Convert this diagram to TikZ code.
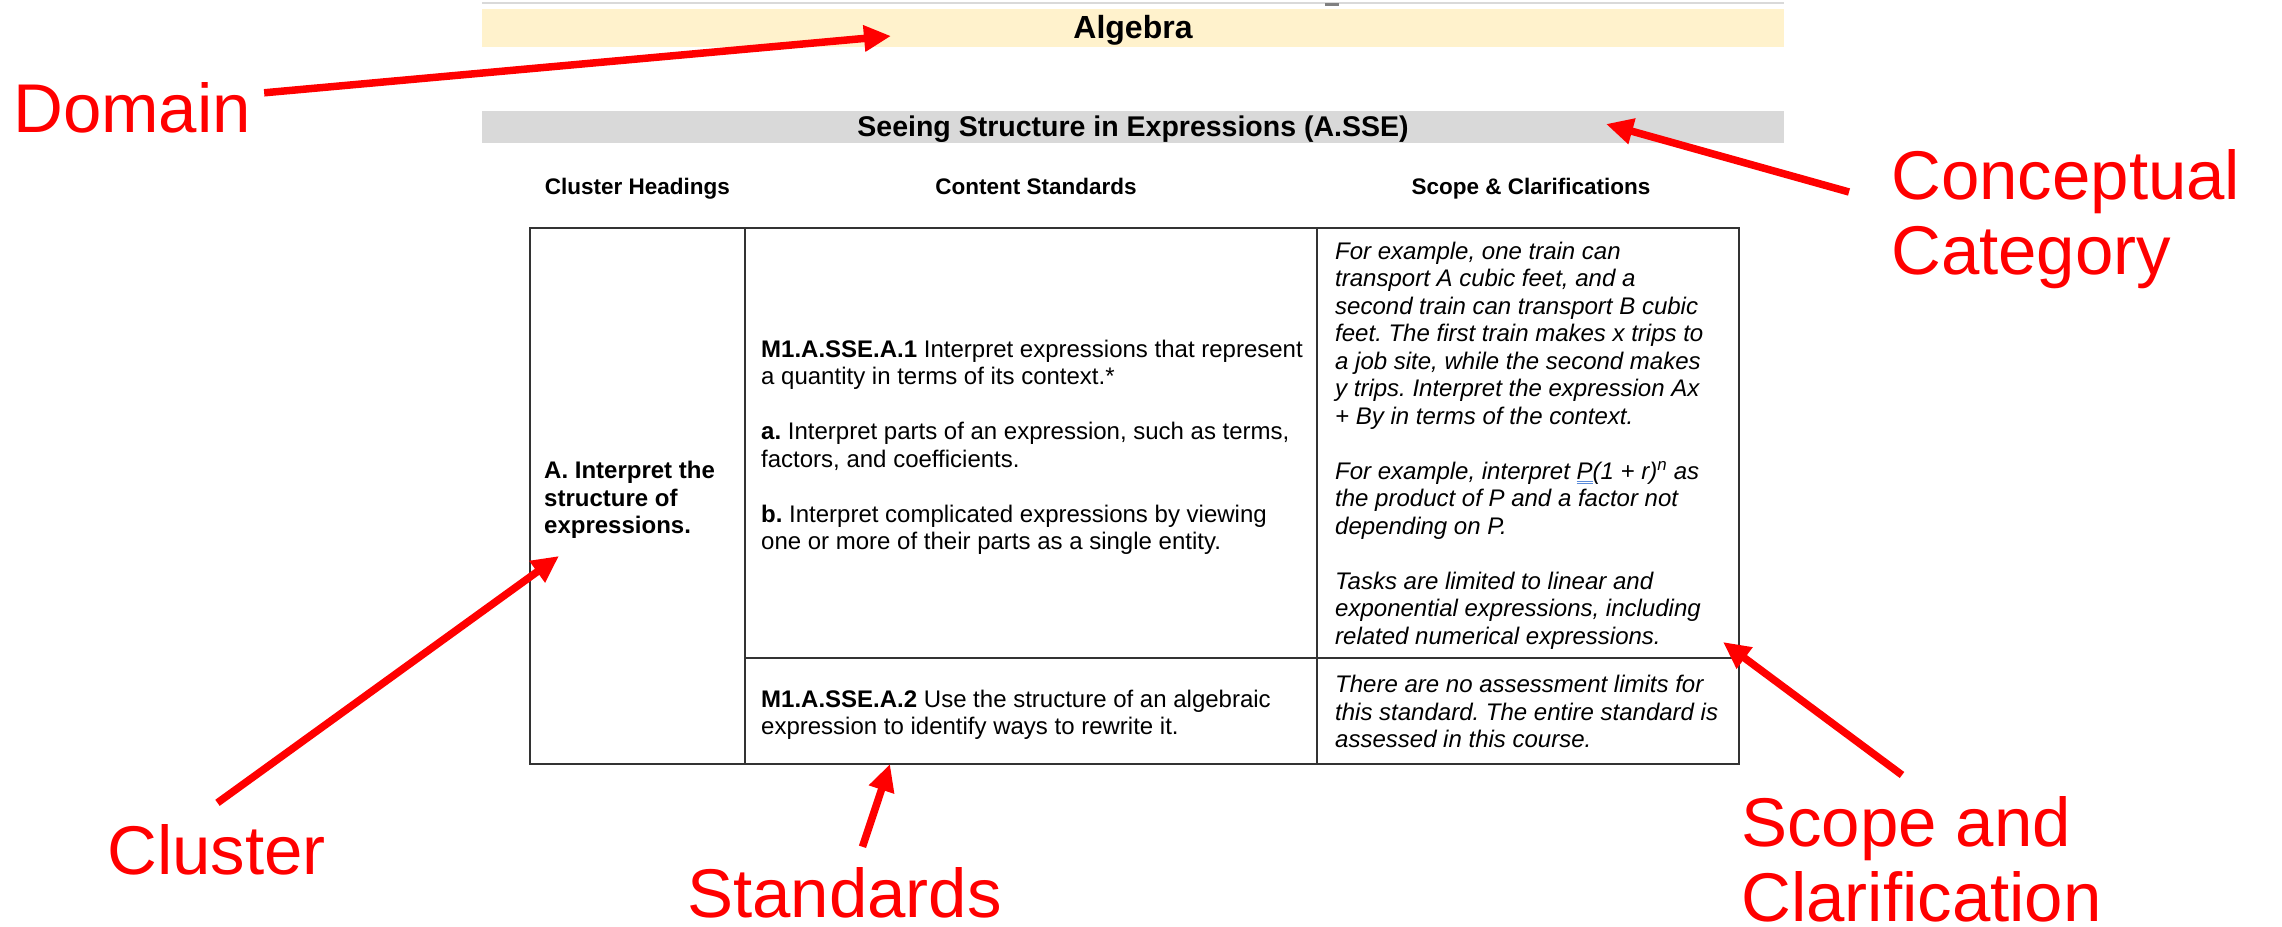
\documentclass[tikz,border=0pt]{standalone}
\usepackage{fontspec}
\setmainfont{Liberation Sans}
\usepackage{xcolor}
\usepackage{tikz}
\usetikzlibrary{arrows.meta}
\frenchspacing

\definecolor{algfill}{HTML}{FFF2CC}
\definecolor{ssefill}{HTML}{D9D9D9}
\definecolor{rulegray}{HTML}{333333}
\definecolor{spellblue}{HTML}{5B8BD9}

\newsavebox{\spellbox}
\newcommand{\spellmark}[1]{\sbox{\spellbox}{#1}%
  \rlap{\color{spellblue}\rule[-2.5pt]{\wd\spellbox}{0.9pt}}%
  \rlap{\color{spellblue}\rule[-5pt]{\wd\spellbox}{0.9pt}}%
  \usebox{\spellbox}}

\begin{document}
\begin{tikzpicture}[x=1pt,y=-1pt,
    cell/.style={inner sep=0pt,anchor=north west,align=left,font=\fontsize{24}{27.5}\selectfont},
    note/.style={cell,font=\fontsize{24}{27.5}\selectfont\itshape},
    colhead/.style={inner sep=0pt,anchor=base,font=\fontsize{22.5}{27}\selectfont\bfseries},
    tag/.style={inner sep=0pt,text=red,font=\fontsize{69}{75}\selectfont},
    callout/.style={draw=red,line width=7.5pt,-{Triangle[length=27pt,width=25pt]}},
    grid/.style={draw=rulegray,line width=1.4pt}]
    \useasboundingbox (0,0) rectangle (2282,926);

    \draw[ssefill,line width=1.5pt] (482,3) -- (1784,3);
    \fill[gray] (1325,2.5) rectangle (1339,5.5);

    \fill[algfill] (482,9) rectangle (1784,47);
    \node[inner sep=0pt,anchor=base,font=\fontsize{32}{38}\selectfont\bfseries] (algebra) at (1133,38) {Algebra};

    \fill[ssefill] (482,111) rectangle (1784,143);
    \node[inner sep=0pt,anchor=base,font=\fontsize{28.5}{34}\selectfont\bfseries] (sse) at (1133,136) {Seeing Structure in Expressions (A.SSE)};

    \node[colhead] (hcluster) at (637.5,194) {Cluster Headings};
    \node[colhead] (hcontent) at (1036,194) {Content Standards};
    \node[colhead] (hscope) at (1531,194) {Scope \& Clarifications};

    \draw[grid] (530,228) rectangle (1739,764);
    \draw[grid] (745,228) -- (745,764) (1317,228) -- (1317,764) (745,658) -- (1739,658);

    \node[cell,font=\fontsize{24}{27.5}\selectfont\bfseries] (clusterA) at (544,459.25)
        {\strut A. Interpret the\\structure of\\expressions.};
    \node[cell] (std1) at (761,337.75)
        {\strut\textbf{M1.A.SSE.A.1} Interpret expressions that represent\\
         a quantity in terms of its context.*\\[27.5pt]
         \textbf{a.} Interpret parts of an expression, such as terms,\\
         factors, and coefficients.\\[27.5pt]
         \textbf{b.} Interpret complicated expressions by viewing\\
         one or more of their parts as a single entity.};
    \node[cell] (std2) at (761,687.75)
        {\strut\textbf{M1.A.SSE.A.2} Use the structure of an algebraic\\
         expression to identify ways to rewrite it.};
    \node[note] (scope1) at (1335,239.75)
        {\strut For example, one train can\\
         transport A cubic feet, and a\\
         second train can transport B cubic\\
         feet. The first train makes x trips to\\
         a job site, while the second makes\\
         y trips. Interpret the expression Ax\\
         + By in terms of the context.\\[27.5pt]
         For example, interpret \spellmark{P}(1 + r)\textsuperscript{n} as\\
         the product of P and a factor not\\
         depending on P.\\[27.5pt]
         Tasks are limited to linear and\\
         exponential expressions, including\\
         related numerical expressions.};
    \node[note] (scope2) at (1335,673.25)
        {\strut There are no assessment limits for\\
         this standard. The entire standard is\\
         assessed in this course.};

    \node[tag,anchor=base west] (domain) at (13,132) {Domain};
    \node[tag,anchor=north west,align=left] (concept) at (1891,149) {Conceptual\\Category};
    \node[tag,anchor=base west] (cluster) at (107,874) {Cluster};
    \node[tag,anchor=base west] (stds) at (687,917) {Standards};
    \node[tag,anchor=north west,align=left] (scope) at (1741,796) {Scope and\\Clarification};

    \coordinate (domtip) at (891,36);
    \coordinate (cattip) at (1606,124);
    \coordinate (clutip) at (559,556);
    \coordinate (stdtip) at (890,764);
    \coordinate (scotip) at (1723,642);

    \draw[callout] ([shift={(13,11)}]domain.north east) -- (domtip);
    \draw[callout] ([shift={(-42,43)}]concept.north west) -- (cattip);
    \draw[callout] ([shift={(1,-21)}]cluster.north) -- (clutip);
    \draw[callout] ([shift={(18,-20)}]stds.north) -- (stdtip);
    \draw[callout] ([shift={(161,-21)}]scope.north west) -- (scotip);
\end{tikzpicture}
\end{document}
